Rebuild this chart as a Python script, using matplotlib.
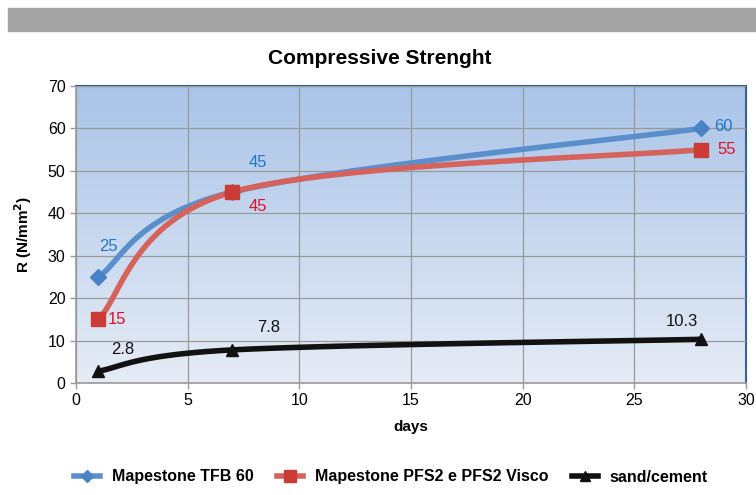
import matplotlib.pyplot as plt
import numpy as np
from matplotlib.patches import Rectangle
from matplotlib.colors import LinearSegmentedColormap

plt.rcParams['font.family'] = ['Liberation Sans', 'DejaVu Sans']

days = [1, 7, 28]
tfb60 = [25, 45, 60]
pfs2 = [15, 45, 55]
sand_cement = [2.8, 7.8, 10.3]
series_names = ['Mapestone TFB 60', 'Mapestone PFS2 e PFS2 Visco', 'sand/cement']


def smooth(x, y, n=60):
    """Excel-style smoothed line (Bezier segments through the points)."""
    p = np.column_stack([x, y]).astype(float)
    pts = np.vstack([p[0], p, p[-1]])
    out = []
    t = np.linspace(0, 1, n)[:, None]
    for i in range(1, len(pts) - 2):
        p0, p1 = pts[i], pts[i + 1]
        c1 = p0 + (pts[i + 1] - pts[i - 1]) / 6
        c2 = p1 - (pts[i + 2] - pts[i]) / 6
        seg = ((1 - t) ** 3) * p0 + 3 * ((1 - t) ** 2) * t * c1 \
            + 3 * (1 - t) * t ** 2 * c2 + t ** 3 * p1
        out.append(seg)
    out = np.vstack(out)
    return out[:, 0], out[:, 1]


fig = plt.figure(figsize=(7.56, 4.95), dpi=100)
fig.patches.append(Rectangle((8 / 756, 1 - 31 / 495), 1, 23 / 495,
                             transform=fig.transFigure, color='#a3a3a3', zorder=0))

ax = fig.add_axes([76 / 756, 1 - 383 / 495, 670 / 756, 297 / 495])

# gradient background
cmap = LinearSegmentedColormap.from_list('bg', ['#e6ecf6', '#aac4e8'])
grad = np.linspace(0, 1, 256).reshape(-1, 1)
ax.imshow(grad, extent=[0, 30, 0, 70], origin='lower', aspect='auto',
          cmap=cmap, zorder=0)

styles = [
    (tfb60, '#5b8fcc', 'D', '#4a82c8', 8),
    (pfs2, '#d6625c', 's', '#cc3a35', 10),
    (sand_cement, '#111111', '^', '#111111', 9),
]
handles = []
for (vals, lc, mk, mc, ms), name in zip(styles, series_names):
    sx, sy = smooth(days, vals)
    ax.plot(sx, sy, color=lc, linewidth=4, solid_capstyle='round', zorder=3)
    ax.plot(days, vals, linestyle='none', marker=mk, markersize=ms,
            color=mc, markeredgecolor=mc, zorder=4)
    h, = ax.plot([], [], color=lc, linewidth=4, marker=mk, markersize=ms * 0.8,
                 markerfacecolor=mc, markeredgecolor=mc, label=name)
    handles.append(h)

# data labels (offsets in pixels from the point)
lbl = [
    (tfb60, '#1e78c8', [(10, 30), (26, 30), (22, 2)]),
    (pfs2, '#e0102a', [(19, 0), (26, -14), (25, 0)]),
    (sand_cement, '#111111', [(24, 22), (36, 22), (-19, 18)]),
]
for vals, c, offs in lbl:
    for x, v, (dx, dy) in zip(days, vals, offs):
        ax.annotate(f'{v:g}', (x, v), xytext=(dx * 0.72, dy * 0.72),
                    textcoords='offset points', ha='center', va='center',
                    color=c, fontsize=12, zorder=5)

ax.set_xlim(0, 30)
ax.set_ylim(0, 70)
ax.set_xticks(range(0, 31, 5))
ax.set_yticks(range(0, 71, 10))
ax.grid(True, color='#999999', linewidth=0.9)
ax.set_axisbelow(False)
for gl in ax.get_xgridlines() + ax.get_ygridlines():
    gl.set_zorder(1)
ax.tick_params(labelsize=11.5, length=4, color='#999999', width=1)
for s in ['left', 'bottom']:
    ax.spines[s].set_color('#999999')
    ax.spines[s].set_linewidth(1.2)
for s in ['top', 'right']:
    ax.spines[s].set_color('#2e5f96')
    ax.spines[s].set_linewidth(1.5)

ax.set_xlabel('days', fontsize=11, fontweight='bold', labelpad=8)
ax.set_ylabel('R (N/mm$^\\mathbf{2}$)', fontsize=11, fontweight='bold', labelpad=10)
fig.text(380 / 756, 1 - 59 / 495, 'Compressive Strenght', ha='center', va='center',
         fontsize=15, fontweight='bold')

fig.legend(handles=handles, loc='center', bbox_to_anchor=(391 / 756, 1 - 477 / 495),
           ncol=3, frameon=False, prop={'weight': 'bold', 'size': 11.5},
           handlelength=1.6, columnspacing=1.5, handletextpad=0.75)

fig.savefig('out.png', dpi=100)
